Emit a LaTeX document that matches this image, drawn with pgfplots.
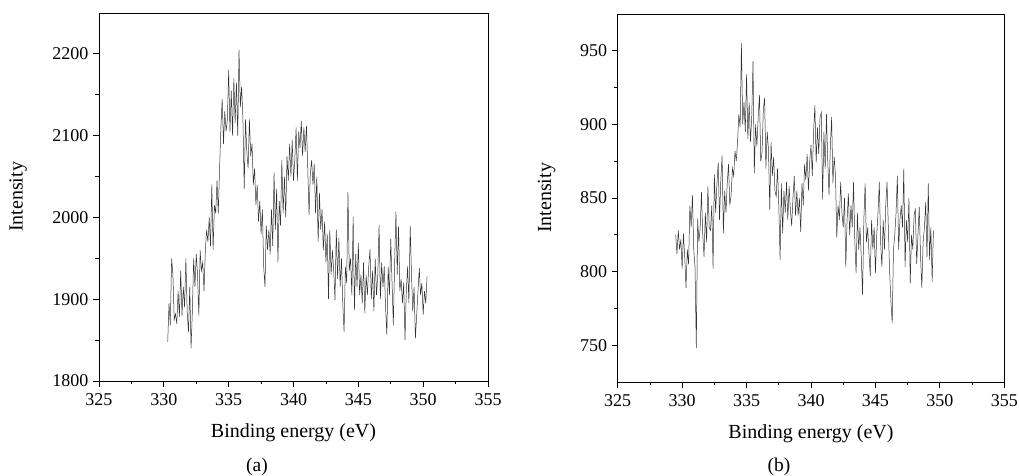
\documentclass[border=0pt]{standalone}
\usepackage{fontspec}
\setmainfont{Liberation Serif}
\usepackage{pgfplots}
\pgfplotsset{compat=1.18}

\pgfplotsset{
  xps/.style={
    scale only axis, anchor=south west,
    xmin=325, xmax=355, xtick={325,330,...,355}, minor x tick num=1,
    xtick pos=bottom, ytick pos=left, tick align=outside,
    major tick length=6pt, minor tick length=3.5pt,
    axis line style={line width=0.8pt}, every tick/.style={line width=0.8pt, black},
    tick label style={font=\fontsize{18}{21}\selectfont},
    xticklabel style={yshift=-3pt},
    yticklabel style={xshift=-1pt},
    /pgf/number format/assume math mode=true,
    /pgf/number format/1000 sep={},
    xlabel={Binding energy (eV)},
    ylabel={Intensity},
    every axis x label/.style={at={(axis description cs:0.5,0)}, anchor=center, yshift=-52pt,
      font=\fontsize{20}{24}\selectfont},
    clip=false,
  },
  spec/.style={black!80, line width=0.5pt, mark=none},
}

\begin{document}
\begin{tikzpicture}[x=1pt,y=1pt]
\useasboundingbox (0,0) rectangle (1019,476);

% (a)
\begin{axis}[xps, at={(99pt,95pt)}, width=389pt, height=368pt,
  ymin=1800, ymax=2250, ytick={1800,1900,...,2200}, minor y tick num=1,
  every axis y label/.style={at={(axis description cs:-0.208,0.5)}, rotate=90, anchor=center,
    font=\fontsize{20}{24}\selectfont}]
\addplot[spec] coordinates {
(330.3,1848) (330.4,1895) (330.5,1868) (330.6,1950) (330.7,1930) (330.8,1875) (330.9,1882) (331.0,1870)
(331.1,1910) (331.2,1878) (331.3,1935) (331.4,1880) (331.5,1915) (331.6,1890) (331.7,1950) (331.8,1885)
(331.9,1860) (332.0,1915) (332.1,1840) (332.2,1885) (332.3,1950) (332.4,1915) (332.5,1955) (332.6,1930)
(332.7,1880) (332.8,1960) (332.9,1935) (333.0,1945) (333.1,1910) (333.2,1960) (333.3,1985) (333.4,1970)
(333.5,2000) (333.6,1965) (333.7,2040) (333.8,1960) (333.9,2015) (334.0,2005) (334.1,2045) (334.2,2005)
(334.3,2060) (334.4,2110) (334.5,2145) (334.6,2090) (334.7,2130) (334.8,2105) (334.9,2120) (335.0,2180)
(335.1,2105) (335.2,2155) (335.3,2100) (335.4,2170) (335.5,2115) (335.6,2165) (335.7,2100) (335.8,2205)
(335.9,2135) (336.0,2160) (336.1,2120) (336.2,2035) (336.3,2120) (336.4,2080) (336.5,2060) (336.6,2120)
(336.7,2075) (336.8,2090) (336.9,2040) (337.0,2060) (337.1,2015) (337.2,2040) (337.3,1995) (337.4,2020)
(337.5,1980) (337.6,2010) (337.7,1940) (337.8,1915) (337.9,1990) (338.0,1960) (338.1,1985) (338.2,1955)
(338.3,2010) (338.4,1965) (338.5,2055) (338.6,1985) (338.7,2035) (338.8,1945) (338.9,2020) (339.0,1990)
(339.1,2070) (339.2,2005) (339.3,2050) (339.4,2000) (339.5,2075) (339.6,2045) (339.7,2090) (339.8,2050)
(339.9,2095) (340.0,2045) (340.1,2070) (340.2,2110) (340.3,2045) (340.4,2105) (340.5,2085) (340.6,2118)
(340.7,2075) (340.8,2110) (340.9,2080) (341.0,2112) (341.1,2060) (341.2,2003) (341.3,2055) (341.4,2070)
(341.5,2040) (341.6,2065) (341.7,2005) (341.8,2050) (341.9,1970) (342.0,2030) (342.1,1985) (342.2,2010)
(342.3,1960) (342.4,1995) (342.5,1945) (342.6,1980) (342.7,1900) (342.8,1985) (342.9,1930)
(343.0,1960) (343.1,1935) (343.2,1899) (343.3,1985) (343.4,1925) (343.5,1975) (343.6,1915) (343.7,1950)
(343.8,1895) (343.9,1860) (344.0,1940) (344.1,1920) (344.2,2031) (344.3,1935) (344.4,1950) (344.5,1905)
(344.6,2001) (344.7,1887) (344.8,1955) (344.9,1915) (345.0,1969) (345.1,1905) (345.2,1930) (345.3,1895)
(345.4,1945) (345.5,1883) (345.6,1930) (345.7,1905) (345.8,1940) (345.9,1961) (346.0,1900) (346.1,1935)
(346.2,1885) (346.3,1950) (346.4,1905) (346.5,1930) (346.6,1991) (346.7,1900) (346.8,1945) (346.9,1915)
(347.0,1940) (347.1,1890) (347.2,1856) (347.3,1940) (347.4,1905) (347.5,1974) (347.6,1920) (347.7,1868)
(347.8,1945) (347.9,2007) (348.0,1930) (348.1,1989) (348.2,1910) (348.3,1925) (348.4,1895) (348.5,1920)
(348.6,1850) (348.7,1910) (348.8,1940) (348.9,1895) (349.0,1990) (349.1,1930) (349.2,1885) (349.3,1915)
(349.4,1852) (349.5,1880) (349.6,1910) (349.7,1938) (349.8,1905) (349.9,1920) (350.0,1881) (350.1,1910)
(350.2,1895) (350.3,1928)
};
\end{axis}

% (b)
\begin{axis}[xps, at={(617.7pt,94pt)}, width=386.6pt, height=368pt,
  ymin=725, ymax=975, ytick={750,800,...,950}, minor y tick num=1,
  every axis y label/.style={at={(axis description cs:-0.184,0.5)}, rotate=90, anchor=center,
    font=\fontsize{20}{24}\selectfont}]
\addplot[spec] coordinates {
(329.5,825) (329.6,812) (329.7,828) (329.8,815) (329.9,822) (330.0,802) (330.1,826) (330.2,810)
(330.3,789) (330.4,815) (330.5,805) (330.6,845) (330.7,830) (330.8,852) (330.9,815) (331.0,803)
(331.1,748) (331.2,836) (331.3,820) (331.4,830) (331.5,854) (331.6,825) (331.7,810) (331.8,840)
(331.9,820) (332.0,858) (332.1,830) (332.2,828) (332.3,845) (332.4,802) (332.5,866) (332.6,840)
(332.7,860) (332.8,874) (332.9,835) (333.0,862) (333.1,879) (333.2,826) (333.3,855) (333.4,840)
(333.5,860) (333.6,873) (333.7,845) (333.8,852) (333.9,870) (334.0,865) (334.1,882) (334.2,875)
(334.3,888) (334.4,907) (334.5,898) (334.6,955) (334.7,900) (334.8,915) (334.9,895) (335.0,934)
(335.1,890) (335.2,915) (335.3,888) (335.4,905) (335.5,943) (335.6,867) (335.7,900) (335.8,885)
(335.9,905) (336.0,920) (336.1,875) (336.2,881) (336.3,910) (336.4,918) (336.5,870) (336.6,895)
(336.7,883) (336.8,842) (336.9,888) (337.0,865) (337.1,878) (337.2,855) (337.3,851) (337.4,870)
(337.5,845) (337.6,808) (337.7,860) (337.8,826) (337.9,855) (338.0,840) (338.1,861) (338.2,835)
(338.3,858) (338.4,842) (338.5,831) (338.6,850) (338.7,865) (338.8,838) (338.9,855) (339.0,838)
(339.1,850) (339.2,827) (339.3,860) (339.4,845) (339.5,873) (339.6,862) (339.7,880) (339.8,855)
(339.9,875) (340.0,886) (340.1,865) (340.2,895) (340.3,913) (340.4,874) (340.5,898) (340.6,880)
(340.7,905) (340.8,908) (340.9,849) (341.0,895) (341.1,870) (341.2,907) (341.3,875) (341.4,852)
(341.5,885) (341.6,905) (341.7,860) (341.8,878) (341.9,865) (342.0,823) (342.1,845) (342.2,835)
(342.3,861) (342.4,840) (342.5,830) (342.6,850) (342.7,803) (342.8,835) (342.9,853) (343.0,825)
(343.1,845) (343.2,830) (343.3,861) (343.4,820) (343.5,799) (343.6,840) (343.7,815) (343.8,830)
(343.9,810) (344.0,784) (344.1,835) (344.2,860) (344.3,820) (344.4,830) (344.5,812) (344.6,797)
(344.7,835) (344.8,815) (344.9,830) (345.0,799) (345.1,825) (345.2,840) (345.3,861) (345.4,820)
(345.5,803) (345.6,835) (345.7,815) (345.8,845) (345.9,861) (346.0,830) (346.1,800) (346.2,780)
(346.3,765) (346.4,815) (346.5,825) (346.6,840) (346.7,865) (346.8,815) (346.9,835) (347.0,845)
(347.1,830) (347.2,870) (347.3,803) (347.4,835) (347.5,820) (347.6,850) (347.7,792) (347.8,825)
(347.9,815) (348.0,838) (348.1,843) (348.2,805) (348.3,825) (348.4,844) (348.5,810) (348.6,789)
(348.7,820) (348.8,830) (348.9,847) (349.0,810) (349.1,860) (349.2,808) (349.3,830) (349.4,793)
(349.5,828)
};
\end{axis}

\node[font=\fontsize{19.5}{23}\selectfont] at (257,9) {(a)};
\node[font=\fontsize{19.5}{23}\selectfont] at (779,9) {(b)};
\end{tikzpicture}
\end{document}
